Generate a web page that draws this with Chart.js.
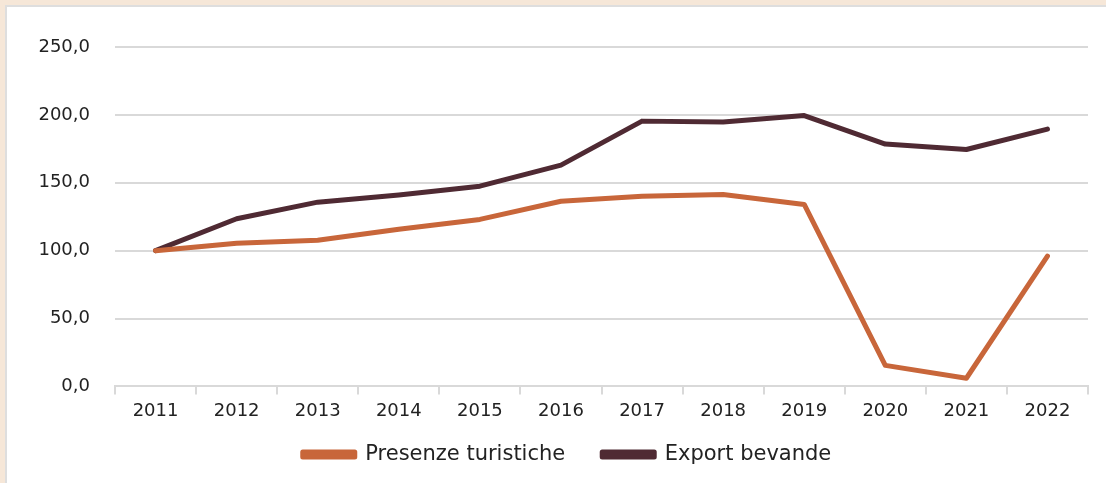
<!DOCTYPE html>
<html>
<head>
<meta charset="utf-8">
<script src="https://cdn.jsdelivr.net/npm/chart.js@4/dist/chart.umd.min.js"></script>
<style>
  html, body { margin: 0; padding: 0; width: 1106px; height: 483px; overflow: hidden; background: #f6e7d8; }
  #frame { position: absolute; left: 5px; top: 5px; right: 0; bottom: 0;
           background: #fff; border-left: 2px solid #dedede; border-top: 2px solid #dedede; }
  #chart { position: absolute; left: 0; top: 0; }
</style>
</head>
<body>
<div id="frame"></div>
<canvas id="chart" width="1106" height="483"></canvas>
<script>
// dati (indice 2011 = 100)
const years = ['2011', '2012', '2013', '2014', '2015', '2016', '2017', '2018', '2019', '2020', '2021', '2022'];
const presenzeTuristiche = [100, 105.5, 107.7, 115.8, 123, 136.4, 140, 141.4, 134, 15.5, 6, 96];
const exportBevande = [100, 123.5, 135.7, 141, 147.5, 163, 195.4, 194.7, 199.5, 178.5, 174.5, 189.5];
const seriesNames = ['Presenze turistiche', 'Export bevande'];
const seriesColors = ['#c8663a', '#4f2a33'];

const fmt = (v) => v.toFixed(1).replace('.', ',');

new Chart(document.getElementById('chart'), {
  type: 'line',
  data: {
    labels: years,
    datasets: [presenzeTuristiche, exportBevande].map((data, i) => ({
      label: seriesNames[i], data,
      borderColor: seriesColors[i], backgroundColor: seriesColors[i],
      borderWidth: 5, pointRadius: 0, tension: 0, borderCapStyle: 'round', borderJoinStyle: 'round',
    })),
  },
  options: {
    responsive: false, animation: false,
    layout: { padding: { left: 0, right: 18, top: 47, bottom: 8 } },
    scales: {
      x: {
        offset: true,
        // asse più basso del necessario: la legenda sta più vicina alle etichette
        afterFit: (s) => { s.height -= 21; s._computeLabelArea = () => undefined; },
        grid: { display: true, offset: true, drawOnChartArea: false, color: '#d9d9d9', lineWidth: 2, tickLength: 8 },
        border: { color: '#d9d9d9', width: 2 },
        ticks: { color: '#222', font: { family: 'DejaVu Sans', size: 18 }, padding: 6, maxRotation: 0, autoSkip: false },
      },
      y: {
        min: 0, max: 250,
        afterFit: (s) => { s.width = 115; },
        grid: { color: '#d9d9d9', lineWidth: 2, drawTicks: false },
        border: { display: false },
        ticks: { stepSize: 50, color: '#222', font: { family: 'DejaVu Sans', size: 18 }, padding: 25, callback: fmt },
      },
    },
    plugins: {
      tooltip: { enabled: false },
      legend: {
        position: 'bottom',
        labels: { boxWidth: 52, boxHeight: 5, padding: 37, color: '#222', font: { family: 'DejaVu Sans', size: 21 } },
      },
    },
  },
  plugins: [{
    id: 'legendShift',
    afterLayout: (c) => { c.legend.left += 23; c.legend.right += 23; },
  }],
});
</script>
</body>
</html>
